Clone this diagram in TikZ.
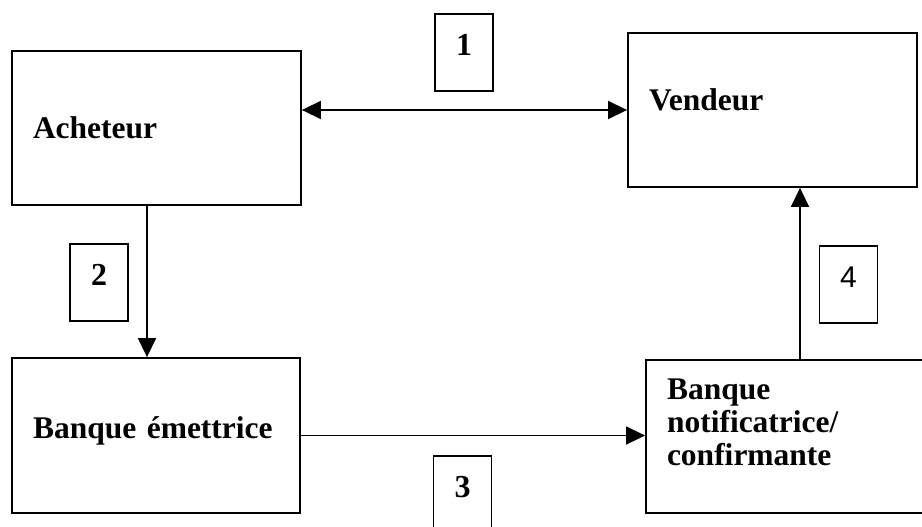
\documentclass[tikz,border=0pt]{standalone}
\usepackage{fontspec}
\setmainfont{Liberation Serif}
\newfontfamily\arialfont{Liberation Sans}
\usetikzlibrary{arrows.meta}
\tikzset{
  party/.style={draw, line width=1.8pt, minimum height=154pt, inner xsep=21pt, align=left,
    font=\bfseries\fontsize{31.5}{33}\selectfont},
  numbox/.style={draw, line width=1.6pt, minimum width=58pt, inner sep=0pt, anchor=north,
    text height=42pt, text depth=35pt, font=\bfseries\fontsize{32}{33}\selectfont},
  flow/.style={line width=1.5pt, -{Triangle[length=19pt, width=18pt]}}
}
\begin{document}
\begin{tikzpicture}[x=1pt, y=-1pt]
                \useasboundingbox (0,0) rectangle (922,527);
                \clip (0,0) rectangle (922,527);
                % Parties
                \node[party, minimum width=289pt, text width=247pt] (acheteur) at (156.5,128) {Acheteur};
                \node[party, minimum width=289pt, text width=247pt] (vendeur) at (772.5,110) {Vendeur\\[-22pt]\strut};
                \node[party, minimum width=288pt, text width=246pt, minimum height=155pt] (emettrice) at (156,435.5) {Banque émettrice\\[-28pt]\strut};
                \node[party, minimum width=284pt, text width=242pt, minimum height=153pt] (notif) at (788,436.5) {Banque\\notificatrice/\\confirmante\\[-14pt]\strut};
                % Steps
                \node[numbox] (n1) at (464,13) {1};
                \node[numbox] (n2) at (99,243) {2};
                \node[numbox] (n3) at (462.5,455) {3};
                \node[numbox, font=\arialfont\fontsize{30}{30}\selectfont] (n4) at (848.5,245) {4};
                % Flows
                \draw[flow, {Triangle[length=19pt, width=18pt]}-{Triangle[length=19pt, width=18pt]}]
                    (acheteur.east |- vendeur.west) -- (vendeur.west);
                \draw[flow] ([xshift=-9.5pt]acheteur.south) -- ([xshift=-9.5pt]acheteur.south |- emettrice.north);
                \draw[flow] (emettrice.east) -- (notif.west |- emettrice.east);
                \draw[flow] ([xshift=12pt]notif.north) -- ([xshift=12pt]notif.north |- vendeur.south);
            \end{tikzpicture}
\end{document}
